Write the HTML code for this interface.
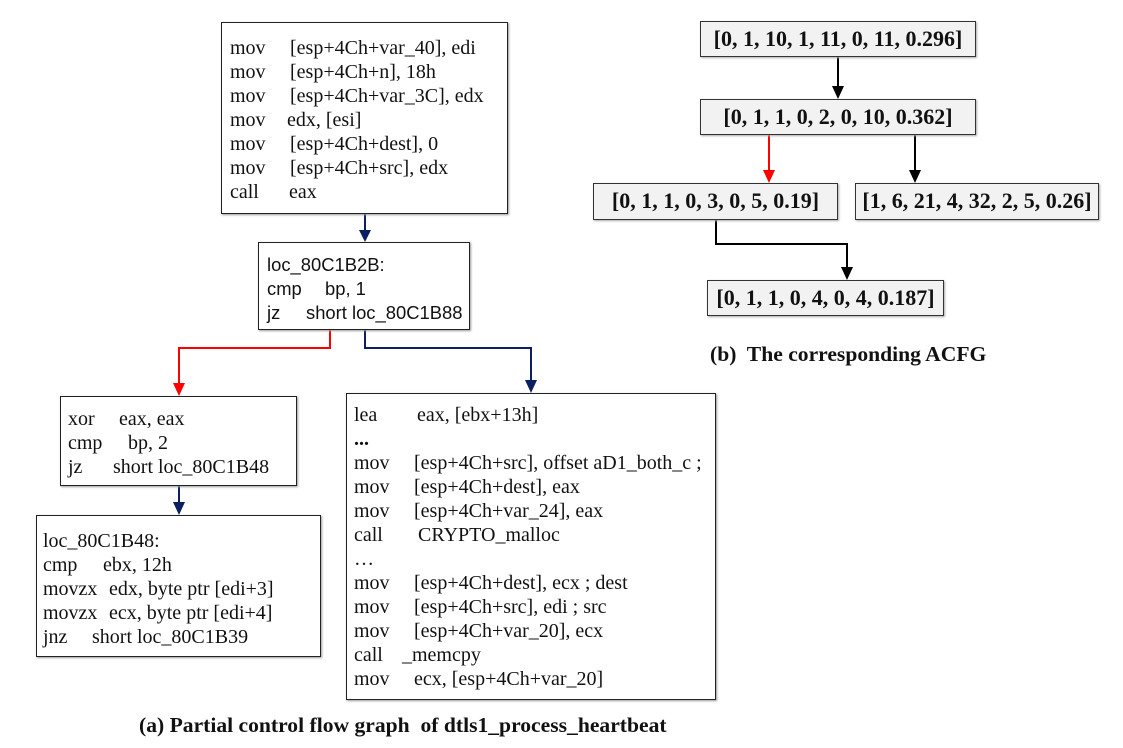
<!DOCTYPE html>
<html><head><meta charset="utf-8"><style>
body{margin:0;width:1123px;height:748px;background:#fff;position:relative;overflow:hidden;font-family:"Liberation Serif",serif;color:#111}
.b{position:absolute;border:1.5px solid #222;box-sizing:border-box;background:#fff;box-shadow:1px 1px 2px #999}
.t{position:absolute;font-size:20px;line-height:24px}
.l{height:24px;position:relative}
.l span{position:absolute;top:0;white-space:pre}
.s{font-family:"Liberation Sans",sans-serif;font-size:18.4px}
.g{position:absolute;background:#f2f2f2;border:1.5px solid #333;box-sizing:border-box;font-weight:bold;font-size:22px;text-align:center;box-shadow:1px 1px 2px #aaa;white-space:nowrap}
.cap{position:absolute;font-weight:bold;font-size:21.6px;white-space:pre}
</style></head><body>
<svg width="1123" height="748" style="position:absolute;left:0;top:0">
<g fill="none" stroke-width="2">
<path d="M365 214 V232" stroke="#0a2060"/><path d="M359 230 L371 230 L365 242z" fill="#0a2060" stroke="none"/>
<path d="M330 330 V348 H179 V384" stroke="#f00"/><path d="M173 383 L185 383 L179 396z" fill="#f00" stroke="none"/>
<path d="M365 330 V348 H531 V381" stroke="#0a2060"/><path d="M525 380 L537 380 L531 393z" fill="#0a2060" stroke="none"/>
<path d="M179 486 V503" stroke="#0a2060"/><path d="M173 502 L185 502 L179 515z" fill="#0a2060" stroke="none"/>
<path d="M838 57 V87" stroke="#000"/><path d="M832 86 L844 86 L838 99z" fill="#000" stroke="none"/>
<path d="M769 135 V171" stroke="#f00"/><path d="M763 170 L775 170 L769 183z" fill="#f00" stroke="none"/>
<path d="M915 135 V171" stroke="#000"/><path d="M909 170 L921 170 L915 183z" fill="#000" stroke="none"/>
<path d="M716 220 V244 H847 V268" stroke="#000"/><path d="M841 267 L853 267 L847 280z" fill="#000" stroke="none"/>
</g>
</svg>

<div class="b" style="left:221px;top:22px;width:287px;height:192px"></div>
<div class="t" style="left:230px;top:36px;width:270px"><div class="l"><span>mov</span><span style="left:60px">[esp+4Ch+var_40], edi</span></div><div class="l"><span>mov</span><span style="left:60px">[esp+4Ch+n], 18h</span></div><div class="l"><span>mov</span><span style="left:60px">[esp+4Ch+var_3C], edx</span></div><div class="l"><span>mov</span><span style="left:57px">edx, [esi]</span></div><div class="l"><span>mov</span><span style="left:60px">[esp+4Ch+dest], 0</span></div><div class="l"><span>mov</span><span style="left:60px">[esp+4Ch+src], edx</span></div><div class="l"><span>call</span><span style="left:59px">eax</span></div></div>

<div class="b" style="left:258px;top:242px;width:212px;height:88px"></div>
<div class="t s" style="left:267px;top:253px;width:200px"><div class="l"><span>loc_80C1B2B:</span></div><div class="l"><span>cmp</span><span style="left:58px">bp, 1</span></div><div class="l"><span>jz</span><span style="left:39px">short loc_80C1B88</span></div></div>

<div class="b" style="left:60px;top:396px;width:237px;height:90px"></div>
<div class="t" style="left:68px;top:407px;width:220px"><div class="l"><span>xor</span><span style="left:51px">eax, eax</span></div><div class="l"><span>cmp</span><span style="left:60px">bp, 2</span></div><div class="l"><span>jz</span><span style="left:45px">short loc_80C1B48</span></div></div>

<div class="b" style="left:36px;top:515px;width:285px;height:142px"></div>
<div class="t" style="left:43px;top:529px;width:270px"><div class="l"><span>loc_80C1B48:</span></div><div class="l"><span>cmp</span><span style="left:60px">ebx, 12h</span></div><div class="l"><span>movzx</span><span style="left:66px">edx, byte ptr [edi+3]</span></div><div class="l"><span>movzx</span><span style="left:66px">ecx, byte ptr [edi+4]</span></div><div class="l"><span>jnz</span><span style="left:49px">short loc_80C1B39</span></div></div>

<div class="b" style="left:346px;top:393px;width:370px;height:307px"></div>
<div class="t" style="left:354px;top:403px;width:355px"><div class="l"><span>lea</span><span style="left:63px">eax, [ebx+13h]</span></div><div class="l"><span style="font-weight:bold">...</span></div><div class="l"><span>mov</span><span style="left:60px">[esp+4Ch+src], offset aD1_both_c ;</span></div><div class="l"><span>mov</span><span style="left:60px">[esp+4Ch+dest], eax</span></div><div class="l"><span>mov</span><span style="left:60px">[esp+4Ch+var_24], eax</span></div><div class="l"><span>call</span><span style="left:64px">CRYPTO_malloc</span></div><div class="l"><span>…</span></div><div class="l"><span>mov</span><span style="left:60px">[esp+4Ch+dest], ecx ; dest</span></div><div class="l"><span>mov</span><span style="left:60px">[esp+4Ch+src], edi ; src</span></div><div class="l"><span>mov</span><span style="left:60px">[esp+4Ch+var_20], ecx</span></div><div class="l"><span>call</span><span style="left:48px">_memcpy</span></div><div class="l"><span>mov</span><span style="left:60px">ecx, [esp+4Ch+var_20]</span></div></div>

<div class="cap" style="left:139px;top:713px">(a) Partial control flow graph  of dtls1_process_heartbeat</div>

<div class="g" style="left:700px;top:21px;width:276px;height:36px;line-height:33px">[0, 1, 10, 1, 11, 0, 11, 0.296]</div>
<div class="g" style="left:700px;top:99px;width:276px;height:36px;line-height:33px">[0, 1, 1, 0, 2, 0, 10, 0.362]</div>
<div class="g" style="left:593px;top:183px;width:245px;height:37px;line-height:34px">[0, 1, 1, 0, 3, 0, 5, 0.19]</div>
<div class="g" style="left:855px;top:183px;width:244px;height:37px;line-height:34px">[1, 6, 21, 4, 32, 2, 5, 0.26]</div>
<div class="g" style="left:707px;top:280px;width:237px;height:36px;line-height:33px">[0, 1, 1, 0, 4, 0, 4, 0.187]</div>
<div class="cap" style="left:710px;top:342px">(b)  The corresponding ACFG</div>
</body></html>
